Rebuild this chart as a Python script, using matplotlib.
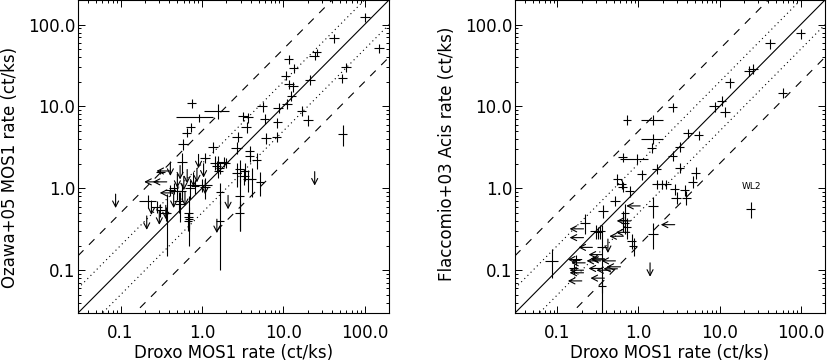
import matplotlib
matplotlib.use("Agg")
import matplotlib.pyplot as plt
import numpy as np
from matplotlib.transforms import offset_copy

plt.rcParams['font.family'] = ['DejaVu Sans']
plt.rcParams['font.size'] = 12

# ---- left panel: Droxo MOS1 vs Ozawa+05 MOS1 ----
l_x = [102, 42.4, 152, 24.4, 26, 11.7, 13.6, 10.8, 11.8, 13.2, 12.6, 11.2, 8.8, 16.8,
       5.6, 5.96, 20.4, 8.5, 53.6, 59.5, 21.6, 3.23, 3.7, 3.55, 8.4, 6.2, 54, 2.75,
       2.68, 1.39, 0.755, 0.93, 1.6, 0.73, 0.655, 0.59, 0.57, 1.1, 1.45, 1.6, 1.85, 2.0,
       1.52, 1.68, 1.6, 2.94, 3.4, 3.9, 3.9, 4.7, 2.7, 3.3, 3.7, 4.1, 5.2, 2.94, 2.94,
       1.68, 1.68, 0.69, 0.69, 0.7, 0.68, 0.37, 0.36, 0.22, 0.28, 0.31, 0.41, 0.49,
       0.57, 0.52, 0.54, 1.0, 1.1, 0.72, 0.83, 0.45, 0.31]
l_y = [123, 68.9, 51.5, 41.8, 46, 38, 29.3, 23.8, 18.7, 17.6, 13.5, 10.7, 9.7, 8.9,
       10, 7.1, 6.8, 6.4, 22.1, 30.1, 21.1, 7.6, 7.35, 5.6, 4.25, 4.1, 4.6, 4.25,
       3.15, 3.2, 11.0, 7.35, 8.8, 5.6, 4.8, 3.46, 2.1, 2.37, 2.06, 2.06, 2.1, 2.06,
       1.87, 1.79, 1.63, 1.71, 1.63, 2.86, 2.5, 2.2, 1.55, 1.41, 1.29, 1.29, 1.2, 0.8, 0.5,
       0.9, 0.4, 0.5, 0.45, 0.42, 0.4, 0.5, 0.5, 0.7, 0.6, 0.55, 0.95, 0.93,
       0.93, 0.7, 0.64, 1.1, 1.05, 1.0, 1.06, 1.0, 1.6]
l_dx = [14, 6, 20, 3.5, 3.5, 1.6, 1.8, 1.5, 1.6, 1.8, 1.6, 1.5, 1.2, 2.2,
        0.8, 0.8, 2.8, 1.1, 7, 8, 3, 0.45, 0.5, 0.5, 1.1, 0.8, 7, 0.4,
        0.4, 0.2, 0.1, 0.45, 0.55, 0.1, 0.08, 0.08, 0.08, 0.15, 0.2, 0.2, 0.25, 0.25,
        0.2, 0.2, 0.2, 0.4, 0.45, 0.5, 0.5, 0.6, 0.35, 0.45, 0.5, 0.5, 0.6, 0.4, 0.4,
        0.2, 0.2, 0.08, 0.08, 0.08, 0.08, 0.05, 0.05, 0.05, 0.04, 0.04, 0.06, 0.1,
        0.07, 0.07, 0.07, 0.35, 0.15, 0.1, 0.1, 0.06, 0.04]
l_dy = [16, 9, 7, 5, 5, 5, 4, 3, 2.5, 2.5, 1.8, 1.5, 1.4, 1.2,
        1.4, 1.0, 1.0, 0.9, 3, 4, 3, 1.0, 1.0, 0.8, 0.6, 0.6, 1.3, 0.6,
        0.5, 0.5, 1.4, 0.8, 1.8, 0.7, 0.6, 0.5, 0.6, 0.35, 0.4, 0.4, 0.3, 0.3,
        0.3, 0.3, 0.3, 0.5, 0.4, 0.4, 0.4, 0.5, 0.5, 0.3, 0.4, 0.5, 0.4, 0.5, 0.2,
        0.25, 0.3, 0.3, 0.15, 0.1, 0.1, 0.35, 0.1, 0.12, 0.1, 0.1, 0.15, 0.2,
        0.2, 0.2, 0.25, 0.2, 0.3, 0.25, 0.2, 0.15, 0.1]
# upper limits on the y rate (down arrows)
l_ulx = [0.087, 24.4, 0.41, 0.54, 0.79, 0.91, 0.87, 1.05, 1.1, 2.1, 1.53, 0.21,
         0.3, 0.24, 0.45, 0.6, 0.66, 0.5, 0.36, 0.62]
l_uly = [0.85, 1.6, 2.1, 1.9, 1.55, 2.6, 1.75, 2.0, 1.25, 0.82, 0.42, 0.46,
         0.53, 0.7, 0.85, 1.4, 1.7, 1.5, 0.62, 0.9]
# upper limits on the x rate (left arrows)
l_lax = [0.37, 0.29, 0.41, 0.45]
l_lay = [1.2, 1.2, 1.63, 0.88]

# ---- right panel: Droxo MOS1 vs Flaccomio+03 Acis ----
r_x = [100, 42, 23.3, 26, 13.5, 10.7, 8.7, 11.8, 60.8, 2.68, 0.73, 1.53, 1.53, 1.46,
       4.13, 5.53, 3.24, 2.68, 3.24, 1.68, 1.1, 5.08, 4.7, 1.68, 1.93, 2.2, 2.8, 2.95,
       3.72, 3.9, 0.64, 0.95, 0.63, 0.645, 0.55, 0.78, 0.52, 1.53, 0.37, 0.22, 0.086,
       0.3, 0.32, 0.34, 0.36, 0.36, 0.69, 0.65, 0.69, 0.72, 0.83, 0.87, 1.53, 24.4,
       0.16, 0.17]
r_y = [78, 59, 27.3, 28.6, 19.7, 11.7, 10, 8.6, 14.8, 9.75, 6.9, 6.9, 4.06, 3.15,
       4.72, 4.46, 3.2, 2.49, 1.79, 1.74, 1.48, 1.56, 1.2, 1.12, 1.12, 1.12, 0.97, 0.77,
       0.95, 0.77, 2.4, 2.3, 1.12, 1.05, 1.29, 0.93, 0.71, 0.61, 0.53, 0.38, 0.13,
       0.3, 0.29, 0.3, 0.19, 0.064, 0.5, 0.41, 0.38, 0.34, 0.23, 0.2, 0.28, 0.56,
       0.105, 0.135]
r_dx = [13, 6, 3, 3.5, 1.8, 1.4, 1.2, 1.6, 8, 0.35, 0.08, 0.45, 0.45, 0.2,
        0.55, 0.7, 0.4, 0.35, 0.4, 0.2, 0.15, 0.6, 0.6, 0.2, 0.25, 0.3, 0.35, 0.4,
        0.5, 0.5, 0.08, 0.35, 0.08, 0.08, 0.07, 0.1, 0.07, 0.2, 0.05, 0.03, 0.016,
        0.05, 0.04, 0.05, 0.05, 0.04, 0.08, 0.08, 0.08, 0.08, 0.1, 0.1, 0.2, 3,
        0.02, 0.02]
r_dy = [11, 8, 4, 4, 2.8, 1.6, 1.4, 1.2, 2, 1.3, 1.0, 0.9, 0.6, 0.45,
        0.6, 0.6, 0.45, 0.35, 0.25, 0.25, 0.2, 0.25, 0.2, 0.15, 0.15, 0.15, 0.15, 0.12,
        0.15, 0.15, 0.3, 0.3, 0.15, 0.15, 0.2, 0.15, 0.1, 0.17, 0.1, 0.1, 0.05,
        0.06, 0.05, 0.06, 0.17, 0.012, 0.15, 0.12, 0.1, 0.1, 0.05, 0.05, 0.1, 0.12,
        0.015, 0.02]
r_ulx = [1.39, 0.42]
r_uly = [0.123, 0.24]
r_lax = [0.21, 0.21, 0.27, 0.2, 0.22, 0.21, 0.21, 0.2, 0.36, 0.38, 0.52, 0.45,
         0.55, 0.6, 1.05, 2.8, 0.78, 0.65, 0.8, 0.34, 0.39, 0.36, 0.38]
r_lay = [0.32, 0.25, 0.19, 0.135, 0.123, 0.1, 0.093, 0.074, 0.155, 0.138, 0.13, 0.1,
         0.104, 0.11, 0.61, 0.36, 0.29, 0.26, 0.4, 0.13, 0.134, 0.105, 0.08]

xlim = (0.03, 200)
ylim = (0.03, 200)
ratios = [1, 2, 0.5, 5, 0.2]
styles = ['-', ':', ':', '--', '--']
ticks = [0.1, 1.0, 10.0, 100.0]
tick_labels = ['0.1', '1.0', '10.0', '100.0']

fig = plt.figure(figsize=(8.27, 3.62), dpi=100)
ax1 = fig.add_axes([78 / 827, 49 / 362, 311 / 827, 313 / 362])
ax2 = fig.add_axes([515 / 827, 49 / 362, 310 / 827, 313 / 362])


def draw_panel(ax, x, y, dx, dy, ulx, uly, lax, lay, ylabel, ylab_pos):
    xx = np.array(xlim)
    for r, ls in zip(ratios, styles):
        line, = ax.plot(xx, r * xx, color='k', lw=0.8, ls=ls)
        if ls == '--':
            line.set_dashes((7, 7))
        elif ls == ':':
            line.set_dashes((1, 3))
    ax.errorbar(x, y, xerr=dx, yerr=dy, fmt='none', ecolor='k', elinewidth=0.8, capsize=0)

    down = offset_copy(ax.transData, fig=fig, x=0, y=-10, units='points')
    for a, b in zip(ulx, uly):
        ax.annotate('', xy=(a, b), xycoords=down, xytext=(a, b), textcoords='data',
                    arrowprops=dict(arrowstyle='->,head_length=0.35,head_width=0.18',
                                    lw=0.8, color='k', shrinkA=0, shrinkB=0))
    left = offset_copy(ax.transData, fig=fig, x=-10, y=0, units='points')
    for a, b in zip(lax, lay):
        ax.annotate('', xy=(a, b), xycoords=left, xytext=(a, b), textcoords='data',
                    arrowprops=dict(arrowstyle='->,head_length=0.35,head_width=0.18',
                                    lw=0.8, color='k', shrinkA=0, shrinkB=0))

    ax.set_xscale('log')
    ax.set_yscale('log')
    ax.set_xlim(*xlim)
    ax.set_ylim(*ylim)
    ax.set_xticks(ticks)
    ax.set_xticklabels(tick_labels)
    ax.set_yticks(ticks)
    ax.set_yticklabels(tick_labels)
    ax.tick_params(which='both', direction='in', top=True, right=True, width=0.7)
    ax.tick_params(which='major', length=5)
    ax.tick_params(which='minor', length=2.5)
    ax.tick_params(axis='x', pad=8)
    ax.tick_params(axis='y', pad=2)
    for s in ax.spines.values():
        s.set_linewidth(0.8)
    ax.set_xlabel('Droxo MOS1 rate (ct/ks)')
    ax.xaxis.set_label_coords(0.5, -40.5 / 313)
    ax.xaxis.label.set_va('center')
    ax.set_ylabel(ylabel)
    ax.yaxis.set_label_coords(-68 / 311, ylab_pos)
    ax.yaxis.label.set_va('center')


draw_panel(ax1, l_x, l_y, l_dx, l_dy, l_ulx, l_uly, l_lax, l_lay,
           'Ozawa+05 MOS1 rate (ct/ks)', 0.466)
draw_panel(ax2, r_x, r_y, r_dx, r_dy, r_ulx, r_uly, r_lax, r_lay,
           'Flaccomio+03 Acis rate (ct/ks)', 0.51)
ax2.text(25, 1.05, 'WL2', fontsize=6.5, ha='center', va='center')

fig.savefig('out.png', dpi=100)
